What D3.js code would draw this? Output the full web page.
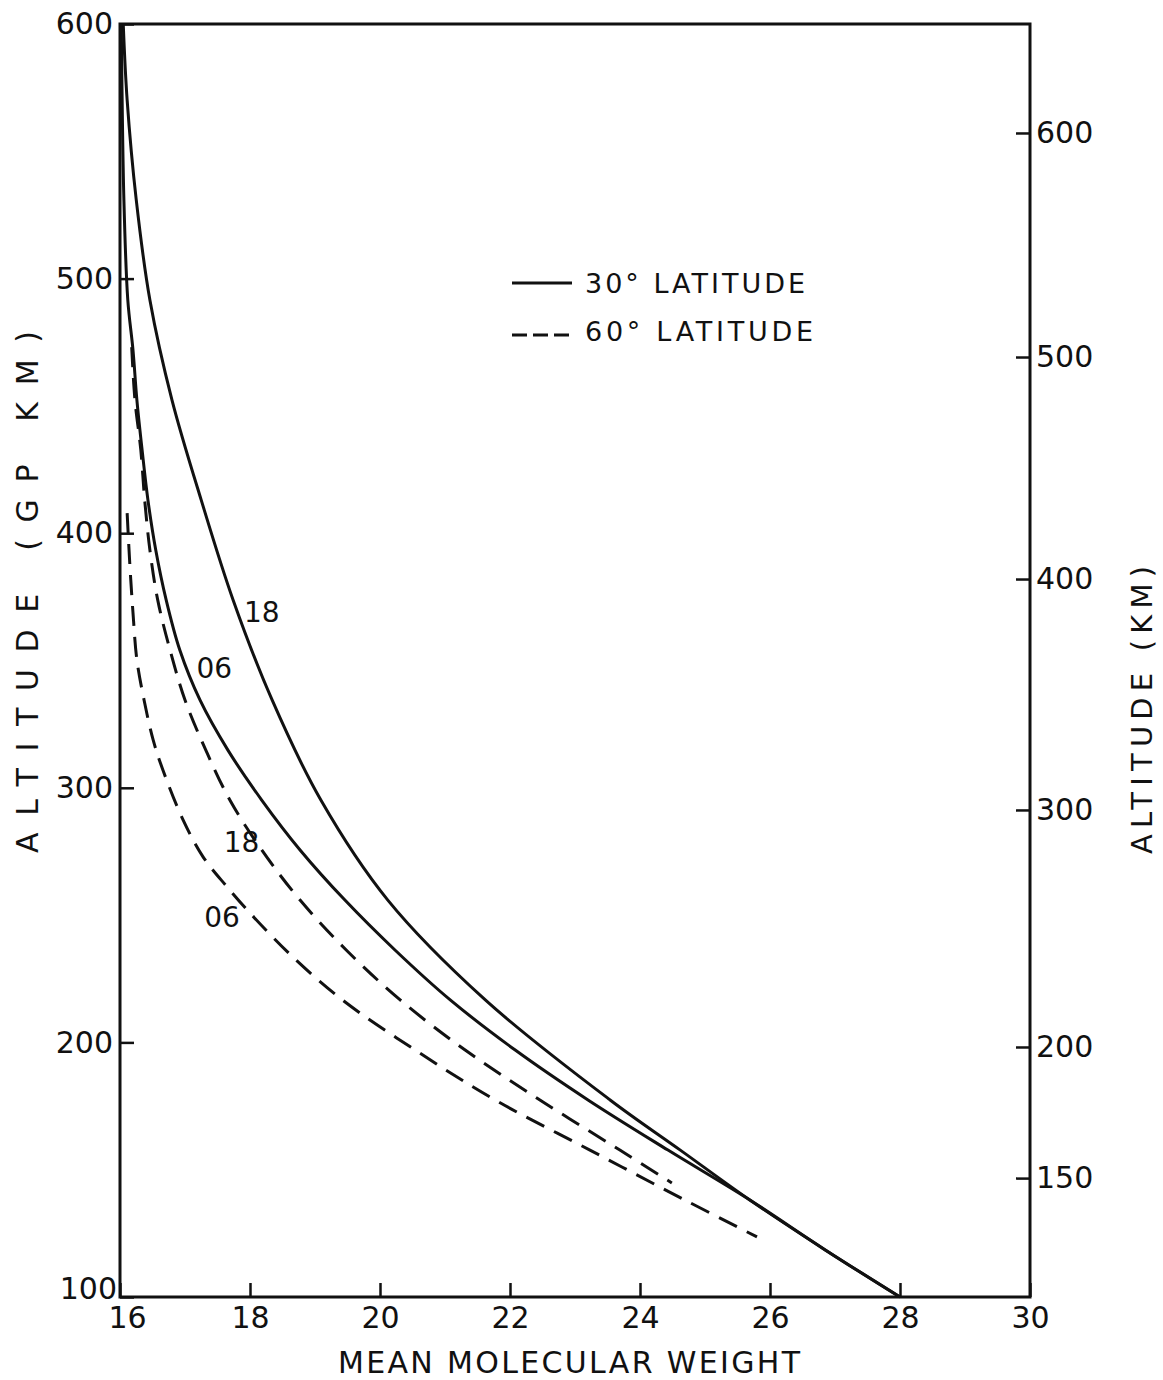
<!DOCTYPE html>
<html>
<head>
<meta charset="utf-8">
<script src="https://cdn.jsdelivr.net/npm/d3@7"></script>
<style>
  body { margin: 0; background: #fff; }
  svg { display: block; }
  text { font-family: "DejaVu Sans", sans-serif; fill: #111; }
</style>
</head>
<body>
<svg id="chart" width="1163" height="1380"></svg>
<script>
// Mean molecular weight vs. altitude (geopotential km), two latitudes, 06h and 18h profiles.
const mmw30_18 = [16.05,16.11,16.25,16.46,16.80,17.25,17.74,18.34,19.09,20.12,21.62,23.54,24.62,25.69,26.85,28.0];
const alt30_18 = [600,570.1,530.9,491.6,452.3,413.0,373.8,334.5,295.2,255.9,216.7,177.4,157.7,138.1,118.5,100];

const mmw30_06 = [16.02,16.06,16.12,16.20,16.26,16.34,16.43,16.55,16.71,16.92,17.23,17.66,18.18,18.77,19.46,20.23,21.08,22.08,23.20,24.43,25.69,26.85,28.0];
const alt30_06 = [600,530.9,491.6,471.9,452.3,432.7,413.0,393.4,373.8,354.1,334.5,314.8,295.2,275.6,255.9,236.3,216.7,197.0,177.4,157.7,138.1,118.5,100];

const mmw60_18 = [16.18,16.23,16.32,16.38,16.46,16.58,16.77,17.00,17.32,17.69,18.18,18.77,19.48,20.31,21.31,22.46,23.69,24.49];
const alt60_18 = [473.1,452.3,432.7,413.0,393.4,373.8,354.1,334.5,314.8,295.2,275.6,255.9,236.3,216.7,197.0,177.4,157.7,144.8];

const mmw60_06 = [16.11,16.15,16.20,16.26,16.37,16.51,16.66,16.97,17.28,17.65,18.00,18.66,19.42,20.54,21.77,23.23,24.69,25.80];
const alt60_06 = [407.9,388.3,368.7,350.2,334.5,318.8,307.0,287.4,272.8,261.0,250.8,233.5,216.7,197.0,177.4,157.7,138.1,123.6];

// Axis ticks
const xTicks = [16,18,20,22,24,26,28,30];
const leftTicks = [100,200,300,400,500,600];
// Geometric altitude ticks (km) and the geopotential altitude each sits at
const kmTicks = [150,200,300,400,500,600];
const kmAsGp  = [146.7,198.2,291.3,382.0,469.2,557.2];

// Hour labels placed beside the curves
const hourLabels = ["18","06","18","06"];
const hourMmw = [18.18,17.45,17.87,17.57];
const hourAlt = [369,347,278.7,248.9];

const legendText = ["30° LATITUDE","60° LATITUDE"];

const svg = d3.select("#chart");
const plotL = 120, plotR = 1030, plotT = 24, plotB = 1297;

const x = d3.scaleLinear().domain([16,30]).range([plotL,plotR]);
const y = d3.scaleLinear().domain([100,600]).range([plotB,plotT]);
const yKm = d3.scaleLinear().domain(kmTicks).range(kmAsGp.map(y));

// frame
svg.append("rect")
  .attr("x", plotL).attr("y", plotT)
  .attr("width", plotR-plotL).attr("height", plotB-plotT)
  .attr("fill","none").attr("stroke","#111").attr("stroke-width",3);

const styleAxis = g => {
  g.select(".domain").remove();
  g.selectAll(".tick line").attr("stroke","#111").attr("stroke-width",2.5);
  g.selectAll(".tick text").attr("font-size",30).attr("fill","#111")
    .attr("font-family","\"DejaVu Sans\", sans-serif");
};

// left axis (geopotential km)
const gL = svg.append("g").attr("transform",`translate(${plotL},0)`)
  .call(d3.axisLeft(y).tickValues(leftTicks).tickSizeInner(-14).tickSizeOuter(0).tickPadding(7).tickFormat(d3.format("d")))
  .call(styleAxis);
gL.selectAll(".tick").filter(d => d===100).select("text").attr("dy","0.05em").attr("x",-3);

// bottom axis
const gB = svg.append("g").attr("transform",`translate(0,${plotB})`)
  .call(d3.axisBottom(x).tickValues(xTicks).tickSizeInner(-14).tickSizeOuter(0).tickPadding(10).tickFormat(d3.format("d")))
  .call(styleAxis);
gB.selectAll(".tick").filter(d => d===16).select("text").attr("x",7);

// right axis (geometric km)
const gR = svg.append("g").attr("transform",`translate(${plotR},0)`)
  .call(d3.axisRight(yKm).tickValues(kmTicks).tickSizeInner(-14).tickSizeOuter(0).tickPadding(6).tickFormat(d3.format("d")))
  .call(styleAxis);

// axis titles
svg.append("text")
  .attr("transform",`translate(38,592) rotate(-90)`)
  .attr("text-anchor","middle").attr("font-size",30)
  .attr("textLength",522).attr("lengthAdjust","spacing")
  .text("ALTITUDE (GP KM)");
svg.append("text")
  .attr("transform",`translate(1152,710) rotate(-90)`)
  .attr("text-anchor","middle").attr("font-size",29)
  .attr("textLength",288).attr("lengthAdjust","spacing")
  .text("ALTITUDE (KM)");
svg.append("text")
  .attr("x",569).attr("y",1373)
  .attr("text-anchor","middle").attr("font-size",30)
  .attr("textLength",462).attr("lengthAdjust","spacing")
  .text("MEAN MOLECULAR WEIGHT");

// curves
const line = d3.line()
  .x(d => x(d[0])).y(d => y(d[1]))
  .curve(d3.curveCatmullRom.alpha(0.5));

const curves = [
  {m: mmw30_18, a: alt30_18, dash: null},
  {m: mmw30_06, a: alt30_06, dash: null},
  {m: mmw60_18, a: alt60_18, dash: "20 11"},
  {m: mmw60_06, a: alt60_06, dash: "20 11"}
];
svg.append("g").selectAll("path").data(curves).join("path")
  .attr("d", c => line(c.m.map((v,i) => [v, c.a[i]])))
  .attr("fill","none").attr("stroke","#111").attr("stroke-width",3)
  .attr("stroke-dasharray", c => c.dash)
  .attr("stroke-linecap","butt");

// hour labels
svg.append("g").selectAll("text").data(hourLabels).join("text")
  .attr("x",(d,i) => x(hourMmw[i])).attr("y",(d,i) => y(hourAlt[i]))
  .attr("text-anchor","middle").attr("dominant-baseline","central")
  .attr("font-size",28).text(d => d);

// legend
const lg = svg.append("g");
lg.append("line").attr("x1",512).attr("x2",572).attr("y1",283).attr("y2",283)
  .attr("stroke","#111").attr("stroke-width",3);
lg.append("line").attr("x1",512).attr("x2",572).attr("y1",335).attr("y2",335)
  .attr("stroke","#111").attr("stroke-width",3).attr("stroke-dasharray","15 6");
lg.selectAll("text").data(legendText).join("text")
  .attr("x",585).attr("y",(d,i) => 283 + i*48)
  .attr("dominant-baseline","central")
  .attr("font-size",27)
  .attr("textLength",(d,i) => i ? 228 : 220).attr("lengthAdjust","spacing")
  .text(d => d);
</script>
</body>
</html>
